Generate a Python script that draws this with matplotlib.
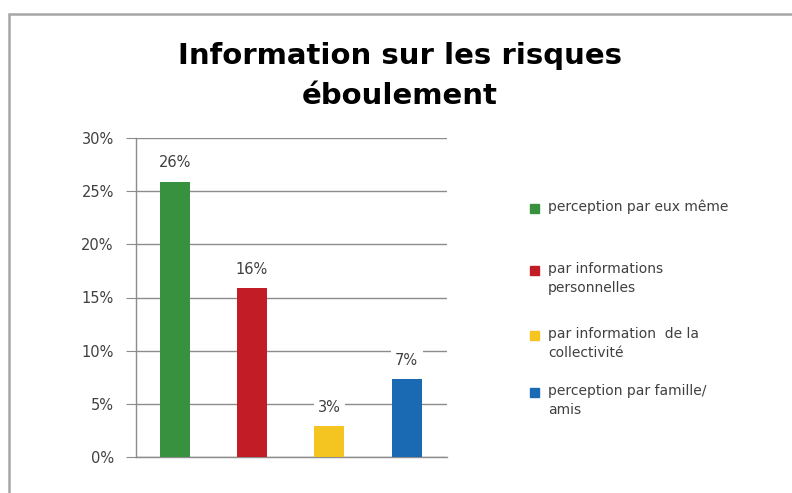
import matplotlib
matplotlib.use("Agg")
from matplotlib import pyplot as plt
from matplotlib.patches import Rectangle

# data
categories = ["perception par eux même",
              "par informations\npersonnelles",
              "par information  de la\ncollectivité",
              "perception par famille/\namis"]
values = [0.259, 0.159, 0.029, 0.073]
bar_labels = ["26%", "16%", "3%", "7%"]
colors = ["#37913f", "#c21d27", "#f4c521", "#1a69b3"]
y_ticks = [0, 0.05, 0.10, 0.15, 0.20, 0.25, 0.30]
y_tick_labels = ["0%", "5%", "10%", "15%", "20%", "25%", "30%"]

title = "Information sur les risques\néboulement"

text_col = "#404040"
grid_col = "#8c8c8c"

W, H = 792, 493
fig = plt.figure(figsize=(W / 100, H / 100), dpi=100)

# outer chart frame (gray border, cut off at right/bottom)
fig.patches.append(Rectangle((9 / W, -0.05), 1.2, 1 - 14 / H + 0.05,
                             transform=fig.transFigure, fill=False,
                             edgecolor="#a6a6a6", linewidth=1.8))

ax = fig.add_axes([136 / W, 1 - 457 / H, (447 - 136) / W, (457 - 138) / H])

x = range(len(values))
ax.bar(x, values, width=0.39, color=colors, zorder=3)
ax.set_xlim(-0.50, 3.52)
ax.set_ylim(0, 0.30)

ax.set_yticks(y_ticks)
ax.set_yticklabels(y_tick_labels, fontsize=10.5, color=text_col)
ax.set_xticks([])
ax.yaxis.grid(True, color=grid_col, linewidth=1, zorder=0)
ax.tick_params(axis="y", length=7, color=grid_col, pad=9)

for s in ["top", "right"]:
    ax.spines[s].set_visible(False)
for s in ["left", "bottom"]:
    ax.spines[s].set_color(grid_col)
    ax.spines[s].set_linewidth(1)

for xi, v, lab in zip(x, values, bar_labels):
    ax.annotate(lab, (xi, v), xytext=(0, 8), textcoords="offset points",
                ha="center", va="bottom", fontsize=10.5, color=text_col,
                bbox=dict(boxstyle="square,pad=0.3", fc="white", ec="none"),
                zorder=4)

fig.text(400 / W, 1 - 76 / H, title, ha="center", va="center",
         fontsize=21, fontweight="bold", linespacing=1.5, color="black")

# legend drawn by hand so the square sits on the first line
leg_y = [208, 270, 335, 392]
for lab, c, yy in zip(categories, colors, leg_y):
    fig.patches.append(Rectangle((530 / W, 1 - (yy + 5) / H), 9 / W, 9 / H,
                                 transform=fig.transFigure, color=c))
    fig.text(548 / W, 1 - (yy - 8) / H, lab, ha="left", va="top",
             fontsize=10, color=text_col, linespacing=1.45)

fig.savefig("out.png", dpi=100)
